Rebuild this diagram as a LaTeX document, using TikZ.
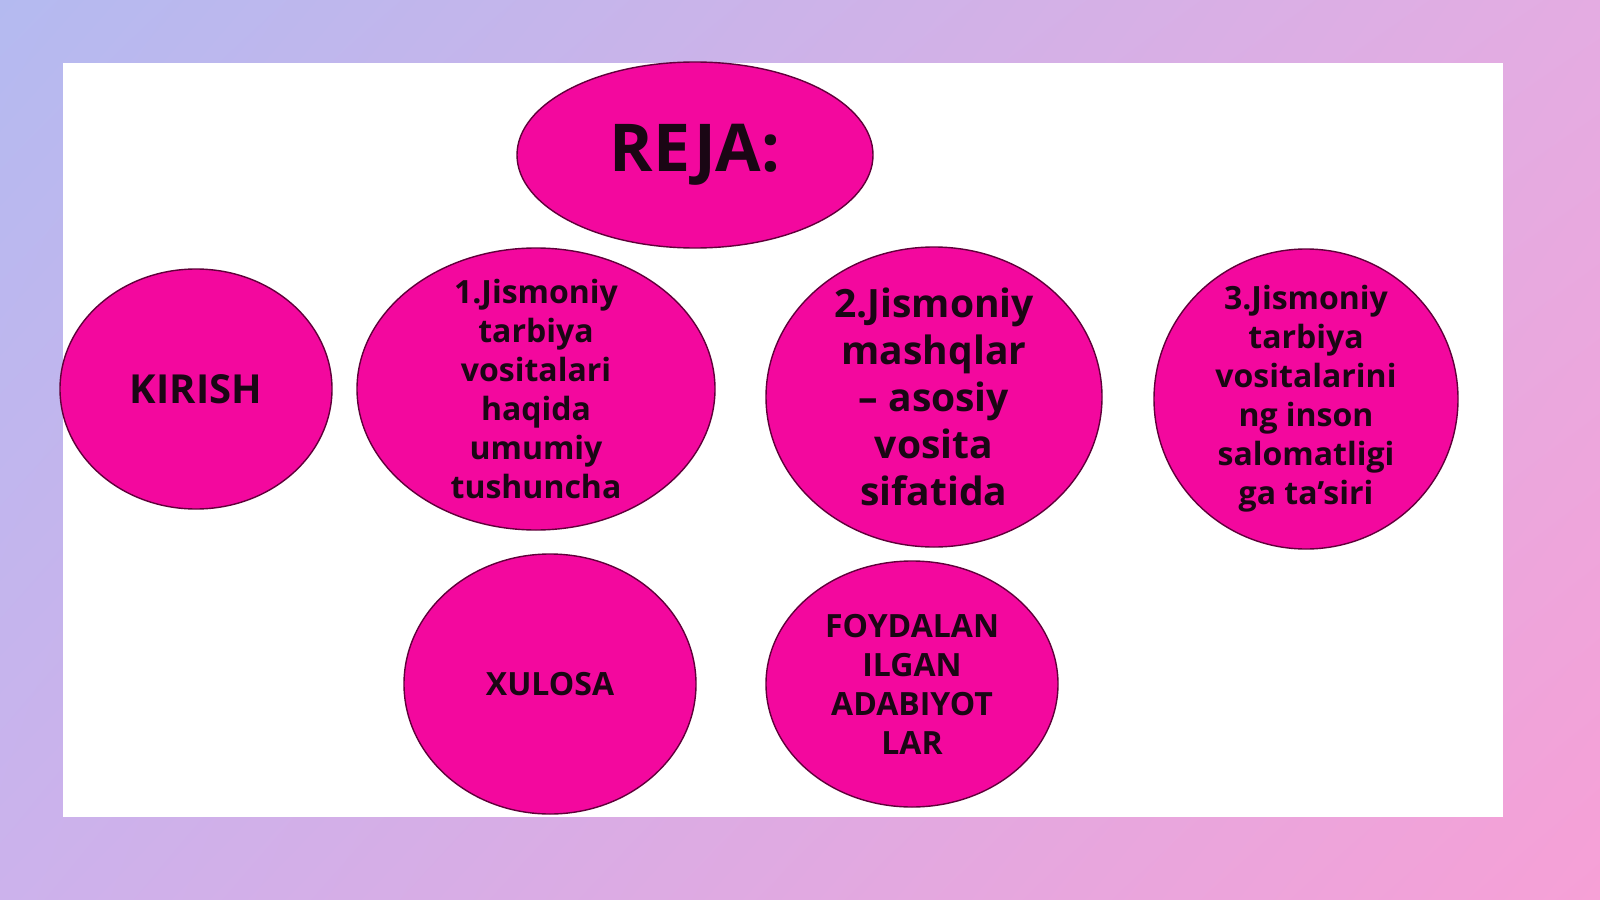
\documentclass[tikz,border=0pt]{standalone}
\usepackage{fontspec}
\setmainfont{Open Sans}
\usetikzlibrary{shapes.geometric,shadings}
\definecolor{rejapink}{RGB}{243,8,158}
\definecolor{rejaline}{RGB}{96,0,58}
\definecolor{rejatext}{RGB}{26,6,20}
\definecolor{bgtl}{RGB}{180,186,240}
\definecolor{bgtr}{RGB}{228,172,226}
\definecolor{bgbl}{RGB}{204,178,236}
\definecolor{bgbr}{RGB}{246,160,214}
\begin{document}
\begin{tikzpicture}[x=0.5pt,y=-0.5pt]
\tikzset{bubble/.style={ellipse, draw=rejaline, line width=0.7pt, fill=rejapink, inner sep=0pt}}
\tikzset{bubbletext/.style={align=center, text=rejatext, inner sep=0pt}}
% background and slide
\useasboundingbox (0,0) rectangle (1600,899);
\shade[upper left=bgtl, upper right=bgtr, lower left=bgbl, lower right=bgbr] (0,0) rectangle (1600,899);
\fill[white] (63,63) rectangle (1503,817);
% title
\node[bubble, minimum width=178pt, minimum height=93pt] (reja) at (695,155) {};
\node[bubbletext, font=\bfseries\fontsize{33}{40}\selectfont] (rejatxt) at (reja.center) {REJA:};
% first row
\node[bubble, minimum width=136pt, minimum height=120pt] (kirish) at (196,389) {};
\node[bubbletext, font=\bfseries\fontsize{20}{24}\selectfont] (kirishtxt) at (kirish.center) {KIRISH};
\node[bubble, minimum width=179pt, minimum height=141pt] (plan1) at (536,389) {};
\node[bubbletext, font=\bfseries\fontsize{16}{19.5}\selectfont] (plan1txt) at (plan1.center)
  {1.Jismoniy\\tarbiya\\vositalari\\haqida\\umumiy\\tushuncha};
\node[bubble, minimum width=168pt, minimum height=150pt] (plan2) at (934,397) {};
\node[bubbletext, font=\bfseries\fontsize{19.5}{23.5}\selectfont] (plan2txt) at (plan2.center)
  {2.Jismoniy\\mashqlar\\– asosiy\\vosita\\sifatida};
\node[bubble, minimum width=152pt, minimum height=150pt] (plan3) at (1306,399) {};
\node[bubbletext, font=\bfseries\fontsize{16}{19.5}\selectfont] (plan3txt) at (plan3.center)
  {3.Jismoniy\\tarbiya\\vositalarini\\ng inson\\salomatligi\\ga ta’siri};
% second row
\node[bubble, minimum width=146pt, minimum height=130pt] (xulosa) at (550,684) {};
\node[bubbletext, font=\bfseries\fontsize{16}{20}\selectfont] (xulosatxt) at (xulosa.center) {XULOSA};
\node[bubble, minimum width=146pt, minimum height=123pt] (adab) at (912,684) {};
\node[bubbletext, font=\bfseries\fontsize{16}{19.5}\selectfont] (adabtxt) at (adab.center)
  {FOYDALAN\\ILGAN\\ADABIYOT\\LAR};
\end{tikzpicture}
\end{document}
